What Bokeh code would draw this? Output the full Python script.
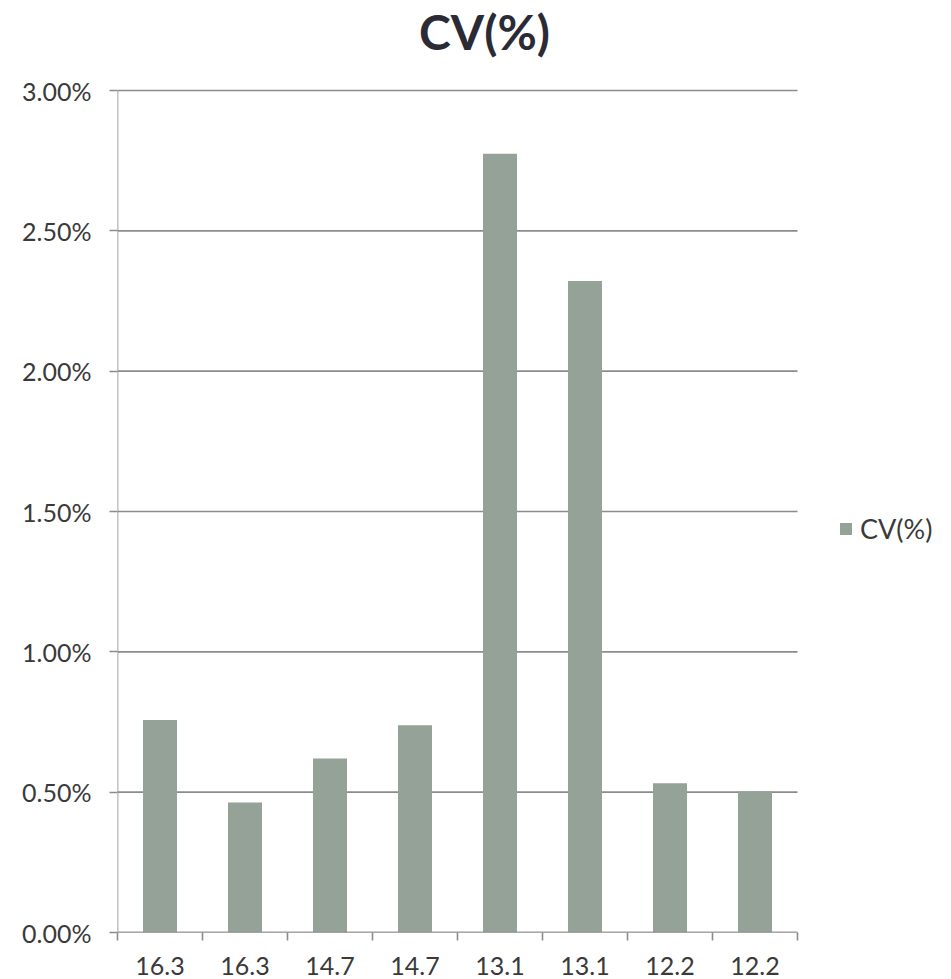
from bokeh.plotting import figure
from bokeh.models import (ColumnDataSource, Range1d, FixedTicker, PrintfTickFormatter,
                          Legend, LegendItem, Label)
from bokeh.embed import file_html
from bokeh.resources import INLINE

# Sample labels (duplicated pairs) and coefficient of variation, in percent
categories = ["16.3", "16.3", "14.7", "14.7", "13.1", "13.1", "12.2", "12.2"]
cv_percent = [0.757, 0.463, 0.620, 0.738, 2.775, 2.321, 0.532, 0.502]
y_ticks = [0.0, 0.5, 1.0, 1.5, 2.0, 2.5, 3.0]

n = len(categories)
positions = list(range(1, n + 1))
boundaries = [i + 0.5 for i in range(0, n + 1)]
x_lo, x_hi = boundaries[0], boundaries[-1]
y_lo, y_hi = y_ticks[0], y_ticks[-1]

FONT = "Lato"
TEXT = "#3a3a3a"
GRID = "#8c8c8c"
BAR = "#94a297"

W, H = 951, 979
LEFT, BOTTOM = 117, 47
PLOT_W, PLOT_H = 680, 842          # pixel size of the value area
frame_w, frame_h = W - LEFT, H - BOTTOM

# the frame also covers the title and legend space; the value area sits in its lower left
x_end = x_lo + (x_hi - x_lo) * frame_w / PLOT_W
y_end = y_lo + (y_hi - y_lo) * frame_h / PLOT_H

source = ColumnDataSource(dict(x=positions, cv=cv_percent, label=categories))

p = figure(width=W, height=H, output_backend="svg", toolbar_location=None,
           x_range=Range1d(x_lo, x_end), y_range=Range1d(y_lo, y_end),
           min_border_left=LEFT, min_border_right=0, min_border_top=0,
           min_border_bottom=BOTTOM)

# horizontal grid lines across the value area
grid_src = ColumnDataSource(dict(x0=[x_lo] * len(y_ticks), x1=[x_hi] * len(y_ticks),
                                 y=y_ticks))
p.segment(x0="x0", x1="x1", y0="y", y1="y", source=grid_src,
          line_color=GRID, line_width=1.6)

bars = p.vbar(x="x", top="cv", width=0.4, source=source, fill_color=BAR, line_color=None)

# axis lines of the value area
p.segment(x0=[x_lo, x_lo], x1=[x_hi, x_lo], y0=[y_lo, y_lo], y1=[y_lo, y_hi],
          line_color=GRID, line_width=1.6)

# y axis: percent ticks with outward tick marks
p.yaxis.ticker = FixedTicker(ticks=y_ticks)
p.yaxis.formatter = PrintfTickFormatter(format="%.2f%%")
p.yaxis.major_tick_out = 8
p.yaxis.major_tick_in = 0
p.yaxis.minor_tick_line_color = None
p.yaxis.axis_line_color = None
p.yaxis.major_tick_line_color = GRID
p.yaxis.major_tick_line_width = 1.6
p.yaxis.major_label_text_font = FONT
p.yaxis.major_label_text_font_size = "25px"
p.yaxis.major_label_text_color = TEXT
p.yaxis.major_label_standoff = 18

# x axis: labels at bar centres, tick marks at category boundaries
p.xaxis.ticker = FixedTicker(ticks=positions, minor_ticks=boundaries)
p.xaxis.major_label_overrides = {pos: lab for pos, lab in zip(positions, categories)}
p.xaxis.major_tick_line_color = None
p.xaxis.major_tick_out = 0
p.xaxis.major_tick_in = 0
p.xaxis.minor_tick_out = 8
p.xaxis.minor_tick_in = 0
p.xaxis.minor_tick_line_color = GRID
p.xaxis.minor_tick_line_width = 1.6
p.xaxis.axis_line_color = None
p.xaxis.major_label_text_font = FONT
p.xaxis.major_label_text_font_size = "25px"
p.xaxis.major_label_text_color = TEXT
p.xaxis.major_label_standoff = 16

p.xgrid.grid_line_color = None
p.ygrid.grid_line_color = None
p.outline_line_color = None
p.background_fill_color = "white"
p.border_fill_color = "white"

title = Label(x=484 - LEFT, y=frame_h - 31, x_units="screen", y_units="screen",
              text="CV(%)", text_font=FONT, text_font_size="48px",
              text_font_style="bold", text_color="#2b2b35",
              text_align="center", text_baseline="middle")
p.add_layout(title)

legend = Legend(items=[LegendItem(label="CV(%)", renderers=[bars])],
                location=(721, 387), orientation="vertical",
                label_text_font=FONT, label_text_font_size="27px",
                label_text_color=TEXT, glyph_width=15, glyph_height=15,
                padding=0, margin=0, spacing=0, label_standoff=7,
                border_line_color=None, background_fill_alpha=0)
p.add_layout(legend, "center")

open("out.html", "w").write(file_html(p, INLINE))
